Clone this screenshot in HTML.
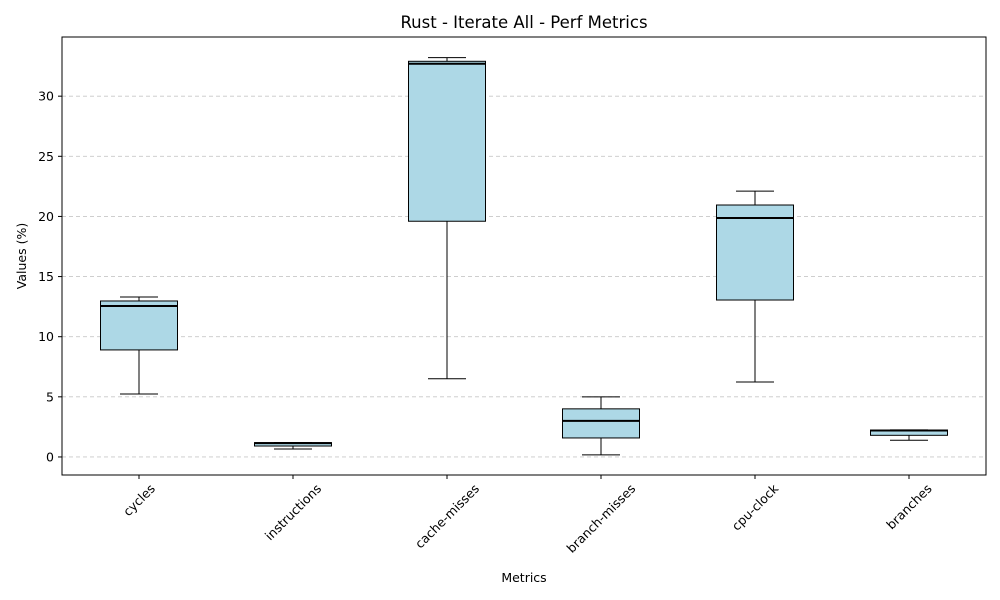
<!DOCTYPE html>
<html><head><meta charset="utf-8"><style>
body{margin:0;background:#fff;}
svg{display:block;font-family:"DejaVu Sans","Liberation Sans",sans-serif;}
</style></head><body>
<svg id="chart" width="1000" height="600"></svg>
<script>
const categories=["cycles","instructions","cache-misses","branch-misses","cpu-clock","branches"];
const whiskerLow=[5.24,0.66,6.5,0.17,6.23,1.39];
const q1Values=[8.9,0.91,19.6,1.58,13.05,1.8];
const medians=[12.55,1.15,32.7,3.0,19.87,2.2];
const q3Values=[12.97,1.19,32.9,4.0,20.95,2.24];
const whiskerHigh=[13.3,1.2,33.2,5.0,22.1,2.25];
const yTicks=[0,5,10,15,20,25,30];

const NS="http://www.w3.org/2000/svg";
const svg=document.getElementById('chart');
const L=62,R=986,T=37,B=475,yMin=-1.5,yMax=34.92;
const y=v=>B-(v-yMin)/(yMax-yMin)*(B-T);
const step=(R-L)/categories.length;
const x=i=>L+step*(i+0.5);
function el(tag,attrs,parent){const e=document.createElementNS(NS,tag);for(const k in attrs)e.setAttribute(k,attrs[k]);(parent||svg).appendChild(e);return e;}

const grid=el('g',{});


yTicks.forEach(t=>{
  const g=el('line',{x1:L,x2:R,y1:y(t),y2:y(t),stroke:'#c8c8c8','stroke-dasharray':'4,3','stroke-width':0.8},grid);
  
  
  const tk=el('line',{x1:L-4,x2:L,y1:y(t),y2:y(t),stroke:'#000'});
  
  
  const tx=el('text',{x:L-8,y:y(t)+4.5,'text-anchor':'end','font-size':12.5,fill:'#000'});
  tx.textContent=t;
  
  
});

categories.forEach((c,i)=>{
  const cx=x(i),bw=77,cw=38;
  const g=el('g',{});
  
  
  el('line',{x1:cx,x2:cx,y1:y(whiskerLow[i]),y2:y(q1Values[i]),stroke:'#000','stroke-width':1},g);
  el('line',{x1:cx,x2:cx,y1:y(q3Values[i]),y2:y(whiskerHigh[i]),stroke:'#000','stroke-width':1},g);
  el('line',{x1:cx-cw/2,x2:cx+cw/2,y1:y(whiskerLow[i]),y2:y(whiskerLow[i]),stroke:'#000','stroke-width':1},g);
  el('line',{x1:cx-cw/2,x2:cx+cw/2,y1:y(whiskerHigh[i]),y2:y(whiskerHigh[i]),stroke:'#000','stroke-width':1},g);
  el('rect',{x:cx-bw/2,y:y(q3Values[i]),width:bw,height:y(q1Values[i])-y(q3Values[i]),fill:'#add8e6',stroke:'#000','stroke-width':1},g);
  el('line',{x1:cx-bw/2,x2:cx+bw/2,y1:y(medians[i]),y2:y(medians[i]),stroke:'#000','stroke-width':2},g);
  const tk=el('line',{x1:cx,x2:cx,y1:B,y2:B+4,stroke:'#000'});
  
  
  const tx=el('text',{x:cx,y:0,'text-anchor':'middle','font-size':12.5,fill:'#000'});
  tx.textContent=c;
  
  
  const w=tx.getComputedTextLength();
  const cy=B+7+(w+12)*0.707/2;
  tx.setAttribute('y',cy+4.5);
  tx.setAttribute('transform',`rotate(-45 ${cx} ${cy})`);
});

const frame=el('rect',{x:L,y:T,width:R-L,height:B-T,fill:'none',stroke:'#000','stroke-width':1});


const title=el('text',{x:(L+R)/2,y:28,'text-anchor':'middle','font-size':16.5,fill:'#000'});
title.textContent='Rust - Iterate All - Perf Metrics';


const xl=el('text',{x:(L+R)/2,y:582,'text-anchor':'middle','font-size':12.5,fill:'#000'});
xl.textContent='Metrics';


const yl=el('text',{x:26,y:(T+B)/2,'text-anchor':'middle','font-size':12.5,fill:'#000',transform:`rotate(-90 26 ${(T+B)/2})`});
yl.textContent='Values (%)';


</script>
</body></html>
